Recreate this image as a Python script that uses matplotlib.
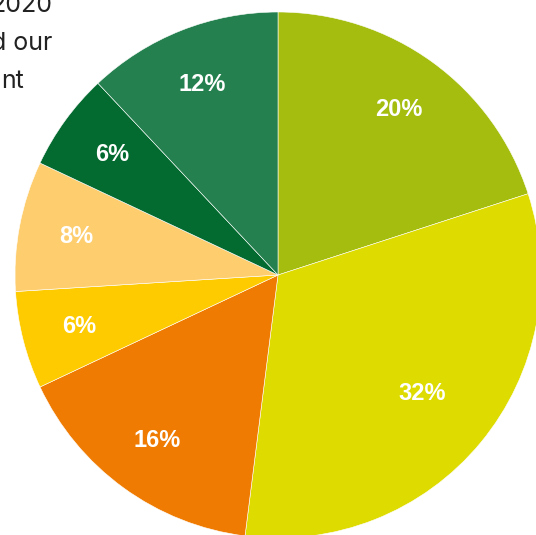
import matplotlib
matplotlib.use("Agg")
import matplotlib.pyplot as plt

# share of each segment, clockwise from 12 o'clock
shares = [20, 32, 16, 6, 8, 6, 12]
colors = ["#a4bd0e", "#dddb00", "#ef7b02", "#fecb00", "#fdcd6e", "#036b30", "#24814f"]
intro_lines = ["2020", "d our", "nt"]

fig = plt.figure(figsize=(5.36, 5.35), dpi=100)
ax = fig.add_axes([0, 0, 1, 1])

# work in pixel units so the pie can be cropped like the original
cx, cy, r = 278, 535 - 275, 263
wedges, texts, pcts = ax.pie(
    shares, colors=colors, startangle=90, counterclock=False,
    center=(cx, cy), radius=r, autopct="%d%%", pctdistance=0.78,
    wedgeprops=dict(edgecolor="white", linewidth=0.4),
    textprops=dict(color="white", fontsize=17, fontweight="bold",
                   family="Liberation Sans"),
)
# the big slice label sits a bit closer to the centre
x, y = pcts[1].get_position()
pcts[1].set_position((cx + (x - cx) * 0.91, cy + (y - cy) * 0.91))

ax.set_xlim(0, 536)
ax.set_ylim(0, 535)
ax.set_aspect("equal")
ax.axis("off")

for i, line in enumerate(intro_lines):
    right = 24 if line == "nt" else 52
    ax.text(right, 535 - 12 - i * 38, line, ha="right", va="baseline",
            fontsize=18, color="#222222", family="Inter", zorder=0)

fig.savefig("out.png", dpi=100)
